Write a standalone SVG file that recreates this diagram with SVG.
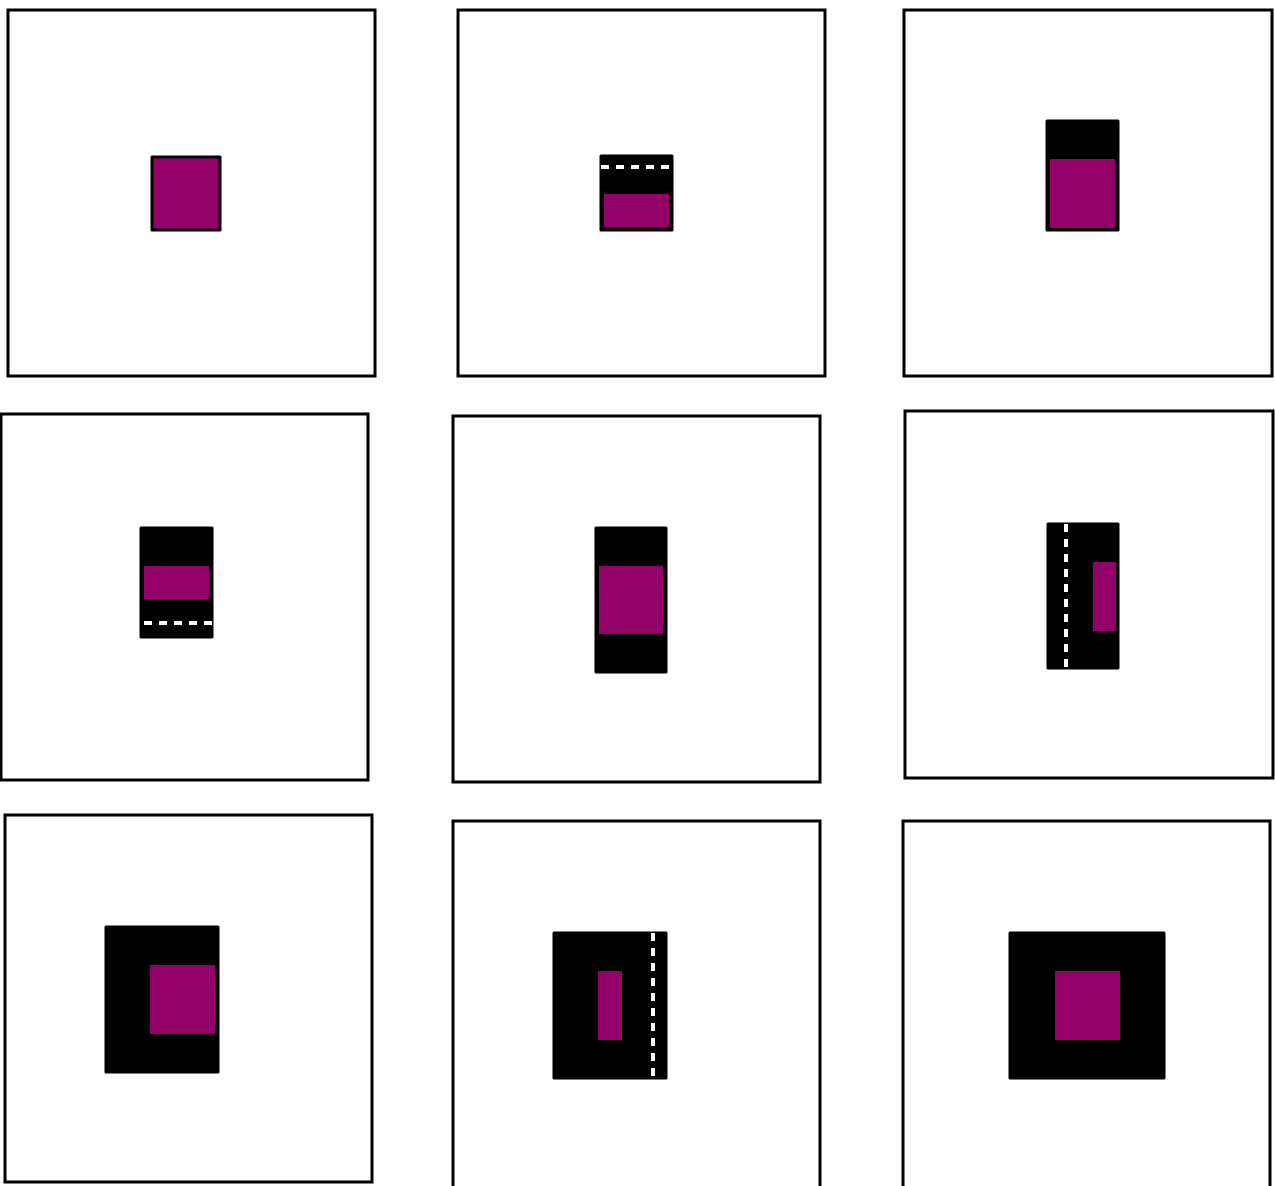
<svg xmlns="http://www.w3.org/2000/svg" width="1275" height="1186" viewBox="0 0 1275 1186">
<style>
.frame{fill:#fff;stroke:#000;stroke-width:3}
.blk{fill:#000;stroke:#000;stroke-width:3;stroke-linejoin:round}
.mag{fill:#930068}
.mags{fill:#930068;stroke:#000;stroke-width:3;stroke-linejoin:round}
.dash{stroke:#fff;stroke-width:4;stroke-dasharray:8,7;fill:none}
</style>
<rect width="1275" height="1186" fill="#fff"/>
<g id="panel1">
<rect class="frame" x="8" y="10" width="367" height="366"/>
<rect class="mags" x="152" y="157" width="68" height="73"/>
</g>
<g id="panel2">
<rect class="frame" x="458" y="10" width="367" height="366"/>
<rect class="blk" x="601" y="156" width="71" height="74"/>
<line class="dash" x1="601" y1="167" x2="672" y2="167"/>
<rect class="mag" x="604" y="194" width="65" height="33"/>
</g>
<g id="panel3">
<rect class="frame" x="904" y="10" width="368" height="366"/>
<rect class="blk" x="1047" y="121" width="71" height="109"/>
<rect class="mag" x="1050" y="159" width="65" height="69"/>
</g>
<g id="panel4">
<rect class="frame" x="1" y="414" width="367" height="366"/>
<rect class="blk" x="141" y="528" width="71" height="109"/>
<rect class="mag" x="144" y="566" width="65" height="33"/>
<line class="dash" x1="144" y1="623" x2="212" y2="623"/>
</g>
<g id="panel5">
<rect class="frame" x="453" y="416" width="367" height="366"/>
<rect class="blk" x="596" y="528" width="70" height="144"/>
<rect class="mag" x="599" y="566" width="64" height="68"/>
</g>
<g id="panel6">
<rect class="frame" x="905" y="411" width="368" height="367"/>
<rect class="blk" x="1048" y="524" width="70" height="144"/>
<line class="dash" x1="1066" y1="524" x2="1066" y2="669"/>
<rect class="mag" x="1093" y="562" width="23" height="69"/>
</g>
<g id="panel7">
<rect class="frame" x="5" y="815" width="367" height="367"/>
<rect class="blk" x="106" y="927" width="112" height="145"/>
<rect class="mag" x="150" y="965" width="65" height="69"/>
</g>
<g id="panel8">
<rect class="frame" x="453" y="821" width="367" height="370"/>
<rect class="blk" x="554" y="933" width="112" height="145"/>
<line class="dash" x1="653" y1="933" x2="653" y2="1079"/>
<rect class="mag" x="598" y="971" width="24" height="69"/>
</g>
<g id="panel9">
<rect class="frame" x="903" y="821" width="367" height="370"/>
<rect class="blk" x="1010" y="933" width="154" height="145"/>
<rect class="mag" x="1055" y="971" width="65" height="69"/>
</g>
<g id="connectors"></g>
</svg>
